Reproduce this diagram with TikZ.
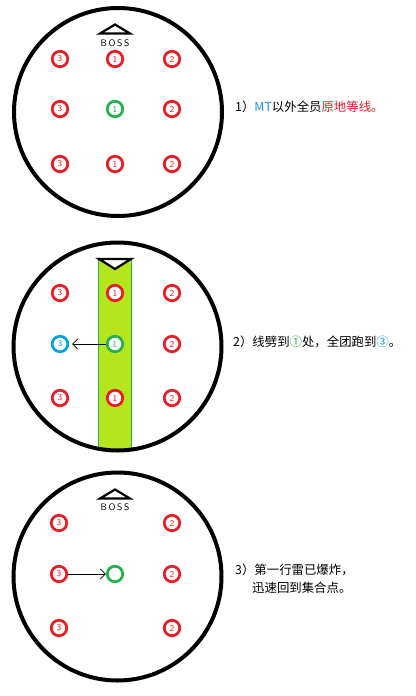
\documentclass[tikz,border=0pt]{standalone}
\usepackage{fontspec}
\newfontfamily\cjk{Noto Sans CJK SC}
\usetikzlibrary{arrows.meta}
\definecolor{pred}{HTML}{ED1C24}
\definecolor{pgreen}{HTML}{22B14C}
\definecolor{pblue}{HTML}{00A2E8}
\definecolor{plime}{HTML}{B5E61D}
\definecolor{mtblue}{HTML}{1E8FE6}
\tikzset{
  arena/.style={circle, draw=black, line width=4pt, minimum size=208pt, inner sep=0pt},
  seat/.style={circle, draw=pred, text=pred, line width=2.7pt, minimum size=15.5pt, inner sep=0pt, fill=white, font=\fontsize{9}{9}\selectfont\sffamily},
  gseat/.style={seat, draw=pgreen, text=pgreen},
  bseat/.style={seat, draw=pblue, text=pblue},
  bosstri/.style={draw=black, line width=2.2pt, fill=white, line join=miter},
  bosslbl/.style={font=\fontsize{9.5}{9.5}\selectfont\sffamily, inner sep=0pt},
  note/.style={anchor=west, inner sep=0pt, font=\fontsize{12.4}{18}\selectfont\cjk},
  move/.style={-{Straight Barb[length=5pt,width=10pt]}, line width=0.8pt},
}
\begin{document}
\begin{tikzpicture}[x=1pt,y=-1pt]
\useasboundingbox (0,0) rectangle (415,696);
% ---------- panel 1 ----------
\node[arena] (c1) at (118,112) {};
\draw[bosstri] (100,33.5) -- (115,24.5) -- (130,33.5) -- cycle;
\node[bosslbl] (boss1) at (115,43) {B\,O\,S\,S};
\node[seat] (a13) at (60,59) {3};
\node[seat] (a11) at (115,59) {1};
\node[seat] (a12) at (172,59) {2};
\node[seat] (b13) at (60,109) {3};
\node[gseat] (b11) at (115,109) {1};
\node[seat] (b12) at (172,109) {2};
\node[seat] (c13) at (60,164) {3};
\node[seat] (c11) at (115,164) {1};
\node[seat] (c12) at (172,164) {2};
\node[note] (t1) at (235,107) {1）\textcolor{mtblue}{MT}以外全员\textcolor{pred}{原地等线。}};
% ---------- panel 2 ----------
\fill[plime] (98.5,258) rectangle (131,449);
\draw[pgreen, line width=0.8pt] (98.5,449) -- (98.5,258) (131,258) -- (131,449);
\node[arena] (c2) at (117.5,346.5) {};
\draw[bosstri] (99,259) -- (131,259) -- (115,269) -- cycle;
\node[seat] (a23) at (60,293) {3};
\node[seat] (a21) at (115,293) {1};
\node[seat] (a22) at (172,293) {2};
\node[bseat] (b23) at (60,344) {3};
\node[gseat] (b21) at (115,344) {1};
\node[seat] (b22) at (172,344) {2};
\node[seat] (c23) at (60,398) {3};
\node[seat] (c21) at (115,398) {1};
\node[seat] (c22) at (172,398) {2};
\draw[move] (b21.west) -- ([xshift=3pt]b23.east);
\node[note] (t2) at (233,342) {2）线劈到\textcolor{pgreen}{①}处，全团跑到\textcolor{pblue}{③}。};
% ---------- panel 3 ----------
\node[arena] (c3) at (117.5,576.5) {};
\draw[bosstri] (100,498.5) -- (115,489.5) -- (130,498.5) -- cycle;
\node[bosslbl] (boss3) at (115,507) {B\,O\,S\,S};
\node[seat] (a33) at (59,523) {3};
\node[seat] (a32) at (172,523) {2};
\node[seat] (b33) at (59,574) {3};
\node[gseat] (g3) at (115,574) {};
\node[seat] (b32) at (172,574) {2};
\node[seat] (c33) at (59,628) {3};
\node[seat] (c32) at (172,628) {2};
\draw[move] (b33.east) -- (g3.west);
\node[note] (t3a) at (235,570) {3）第一行雷已爆炸，};
\node[note] (t3b) at (252,588) {迅速回到集合点。};
\end{tikzpicture}
\end{document}
